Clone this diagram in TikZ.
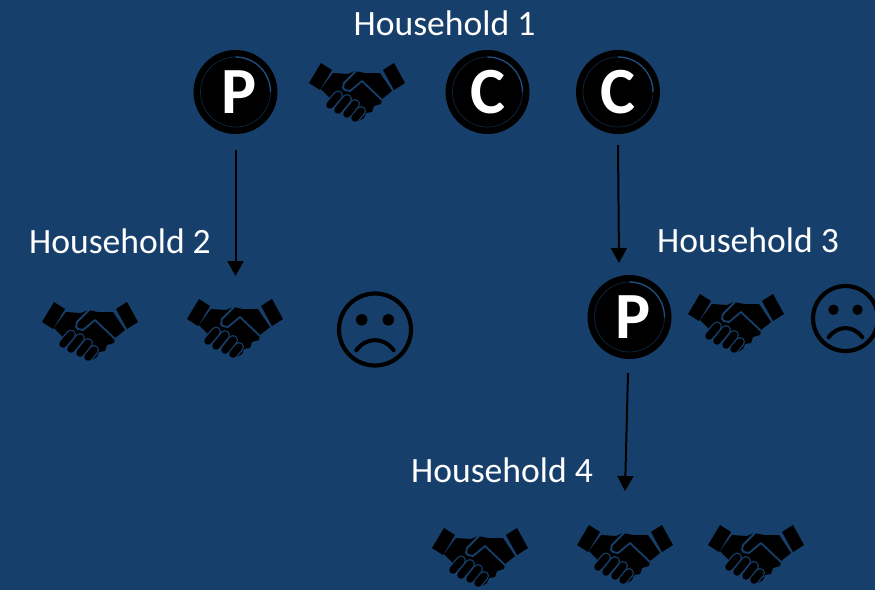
\documentclass[tikz,border=0pt]{standalone}
\usepackage{fontspec}
\setmainfont{Carlito}
\usetikzlibrary{arrows.meta}
\definecolor{bgblue}{HTML}{173F6B}
\definecolor{ringblue}{HTML}{1F4F80}
\definecolor{ringdim}{HTML}{0E2740}
\tikzset{
  hhlabel/.style={text=white,font=\fontsize{35.6}{40}\selectfont,inner sep=0pt,anchor=center},
  flow/.style={draw=black,line width=2pt,-{Triangle[length=15pt,width=16pt]}},
  roledisc/.style={circle,fill=black,minimum size=84pt,inner sep=0pt,text=white,font=\bfseries\fontsize{66}{66}\selectfont},
  pics/shake/.style={code={
    \fill[black] (-36,-28)--(-25,-21)--(-37,-1)--(-48,-8)--cycle;
    \fill[black] (37,-28)--(48,-8)--(37,-1)--(26,-21)--cycle;
    \fill[black] (-24,-18)--(-9,-17)--(-2,-20)--(8,-18)--(23,-18)--(35,0)--(25,8)--(24,13)--(17,15)--(15,21)--(9,22)--(7,27)--(2,30)--(-6,24)--(-14,16)--(-27,7)--(-36,-2)--cycle;
    \draw[bgblue,line width=1.8pt,line join=round,line cap=round] (-1,-20)--(-13,-8)--(-14,-3)--(-12,-1)--(-7,0)--(5,-10)--(25,9);
    \foreach \ax/\ay/\bx/\by in {-27/14/-19/4.5,-19/19/-10/8,-10/23/-2/13,-2/27/4/20}{
      \draw[bgblue,line cap=round,line width=10pt] (\ax,\ay)--(\bx,\by);
    }
    \foreach \ax/\ay/\bx/\by in {-27/14/-19/4.5,-19/19/-10/8,-10/23/-2/13,-2/27/4/20}{
      \draw[black,line cap=round,line width=7.5pt] (\ax,\ay)--(\bx,\by);
    }
  }},
  pics/sad/.style args={#1}{code={
    \draw[black,line width=4.2pt] (0,0) circle (#1);
    \fill[black] (-0.37*#1,-0.27*#1) circle (0.16*#1);
    \fill[black] (0.37*#1,-0.27*#1) circle (0.16*#1);
    \draw[black,line width=4pt,line cap=round] (-0.52*#1,0.58*#1) .. controls (-0.25*#1,0.2*#1) and (0.25*#1,0.2*#1) .. (0.52*#1,0.58*#1);
  }},
}
\begin{document}
\begin{tikzpicture}[x=1pt,y=-1pt]
\useasboundingbox (0,0) rectangle (875,590);
\fill[bgblue] (0,0) rectangle (875,590);
% labels
\node[hhlabel] (h1) at (444.5,23) {Household 1};
\node[hhlabel] (h2) at (120,241.5) {Household 2};
\node[hhlabel] (h3) at (748,240.5) {Household 3};
\node[hhlabel] (h4) at (502,470.5) {Household 4};
% discs
\node[roledisc] (p1) at (235.5,92) {\kern8pt P};
\node[roledisc] (c1) at (487.5,92) {C};
\node[roledisc] (c2) at (618,92) {C};
\node[roledisc] (p2) at (629.5,317) {\kern8pt P};
\foreach \n in {p1,c1,c2,p2}{
  \draw[ringdim,line width=0.7pt] (\n.center) circle (35);
  \draw[ringblue,line width=1.3pt] (\n.center) ++(0,-35) arc[start angle=-90,end angle=0,radius=35];
}
% handshakes
\pic at (357,91) {shake};
\pic at (90,330) {shake};
\pic at (235,327) {shake};
\pic at (736,322) {shake};
\pic at (480,556) {shake};
\pic at (625,553) {shake};
\pic at (756,553) {shake};
% faces
\pic at (375,329.5) {sad={36}};
\pic at (845.5,318.5) {sad={32.5}};
% arrows
\coordinate (a1s) at (235.5,150);
\coordinate (a1e) at (235.5,276);
\coordinate (a2s) at (618,145);
\coordinate (a2e) at (619,263);
\coordinate (a3s) at (628,373);
\coordinate (a3e) at (625,491);
\draw[flow] (a1s) -- (a1e);
\draw[flow] (a2s) -- (a2e);
\draw[flow] (a3s) -- (a3e);
\end{tikzpicture}
\end{document}
